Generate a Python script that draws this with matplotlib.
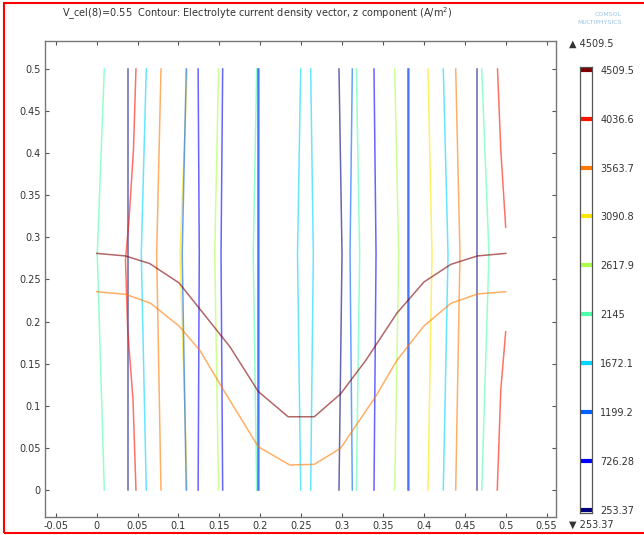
import numpy as np
import matplotlib.pyplot as plt
from matplotlib.patches import Rectangle

# contour levels (A/m^2)
levels = [253.37, 726.28, 1199.2, 1672.1, 2145, 2617.9, 3090.8, 3563.7, 4036.6, 4509.5]
level_labels = ['253.37', '726.28', '1199.2', '1672.1', '2145', '2617.9',
                '3090.8', '3563.7', '4036.6', '4509.5']

# near-vertical contour lines: level index, x at y=0.5, x near y=0.28, x at y=0
v_level = [4, 0, 3, 7, 6, 2, 1, 5, 1, 4, 1, 2,
           3, 3, 0, 2, 4, 1, 5, 1, 2, 6, 3, 7, 0, 4]
v_top = [0.0093, 0.0379, 0.0606, 0.0786, 0.1108, 0.1095, 0.124, 0.149, 0.154, 0.1956, 0.1972, 0.1985,
         0.2494, 0.2616, 0.2962, 0.3125, 0.3174, 0.339, 0.3643, 0.3809, 0.3815, 0.405, 0.4237, 0.4389,
         0.4653, 0.4707]
v_mid = [0.0007, 0.0379, 0.0545, 0.0733, 0.1018, 0.1045, 0.1254, 0.1443, 0.152, 0.1914, 0.1972, 0.1985,
         0.2455, 0.2648, 0.2999, 0.3097, 0.3215, 0.3415, 0.3692, 0.3809, 0.3815, 0.4099, 0.4295, 0.4441,
         0.4653, 0.4796]
v_bot = v_top
v_y = [0.5, 0.28, 0.0]

# bent 4036.6 contours near the side walls
red_left_x = [0.048, 0.045, 0.0395, 0.0352, 0.0379, 0.0444, 0.048]
red_left_y = [0.5, 0.405, 0.321, 0.273, 0.19, 0.107, 0.0]
red_right_top_x = [0.490, 0.494, 0.5]
red_right_top_y = [0.5, 0.404, 0.312]
red_right_bot_x = [0.5, 0.494, 0.4897]
red_right_bot_y = [0.188, 0.119, 0.0]

# curved contours across the domain
upper_x = [0, 0.035, 0.0647, 0.1006, 0.163, 0.1975, 0.234, 0.266, 0.298, 0.329, 0.367,
           0.40, 0.433, 0.4655, 0.5]
upper_y = [0.281, 0.278, 0.269, 0.246, 0.170, 0.117, 0.087, 0.087, 0.114, 0.154, 0.21,
           0.247, 0.268, 0.278, 0.281]
lower_x = [0, 0.0355, 0.066, 0.1006, 0.126, 0.155, 0.1975, 0.236, 0.266, 0.298, 0.341,
           0.367, 0.40, 0.433, 0.4655, 0.5]
lower_y = [0.2355, 0.2324, 0.2217, 0.1948, 0.166, 0.1188, 0.0514, 0.0297, 0.0305, 0.0495,
           0.111, 0.154, 0.1948, 0.2217, 0.2328, 0.2355]

x_ticks = [-0.05, 0, 0.05, 0.1, 0.15, 0.2, 0.25, 0.3, 0.35, 0.4, 0.45, 0.5, 0.55]
x_tick_labels = ['-0.05', '0', '0.05', '0.1', '0.15', '0.2', '0.25', '0.3', '0.35',
                 '0.4', '0.45', '0.5', '0.55']
y_ticks = [0, 0.05, 0.1, 0.15, 0.2, 0.25, 0.3, 0.35, 0.4, 0.45, 0.5]
y_tick_labels = ['0', '0.05', '0.1', '0.15', '0.2', '0.25', '0.3', '0.35', '0.4', '0.45', '0.5']

cmap = plt.cm.jet
norm = plt.Normalize(levels[0], levels[-1])
txt = '#333333'
W, H = 644, 535

fig = plt.figure(figsize=(6.44, 5.35), dpi=100)
ax = fig.add_axes([45 / W, (H - 516.7) / H, 511 / W, 476 / H])

for lv, xt, xm, xb in zip(v_level, v_top, v_mid, v_bot):
    ax.plot([xt, xm, xb], v_y, color=cmap(norm(levels[lv])), lw=1.1, alpha=0.6)

red = cmap(norm(levels[8]))
ax.plot(red_left_x, red_left_y, color=red, lw=1.1, alpha=0.6)
ax.plot(red_right_top_x, red_right_top_y, color=red, lw=1.1, alpha=0.6)
ax.plot(red_right_bot_x, red_right_bot_y, color=red, lw=1.1, alpha=0.6)
ax.plot(upper_x, upper_y, color=cmap(norm(levels[9])), lw=1.1, alpha=0.6)
ax.plot(lower_x, lower_y, color=cmap(norm(levels[7])), lw=1.1, alpha=0.6)

ax.set_xlim(-0.0632, 0.5615)
ax.set_ylim(-0.0317, 0.5336)
ax.set_xticks(x_ticks)
ax.set_xticklabels(x_tick_labels)
ax.set_yticks(y_ticks)
ax.set_yticklabels(y_tick_labels)
ax.tick_params(direction='in', top=True, right=True, length=3, width=0.8,
               color='#555555', labelsize=7, labelcolor=txt, pad=3)
for s in ax.spines.values():
    s.set_color('#777777')
    s.set_linewidth(1.0)

# legend bar with level marks
cax = fig.add_axes([580 / W, (H - 513.3) / H, 12 / W, 446 / H])
cax.set_xlim(0, 1)
cax.set_ylim(216.6, 4535.6)
for lv in levels:
    cax.axhline(lv, color=cmap(norm(lv)), lw=3)
cax.set_xticks([])
cax.yaxis.tick_right()
cax.set_yticks(levels)
cax.set_yticklabels(level_labels)
cax.tick_params(axis='y', length=0, labelsize=7, labelcolor=txt, pad=6)
for s in cax.spines.values():
    s.set_color('#555555')
    s.set_linewidth(0.9)

fig.text(569 / W, 1 - 44 / H, '\u25b2 4509.5', fontsize=7, color=txt, va='center')
fig.text(569 / W, 1 - 525 / H, '\u25bc 253.37', fontsize=7, color=txt, va='center')

fig.text(62 / W, 1 - 14 / H,
         r'V_cel(8)=0.55  Contour: Electrolyte current density vector, z component (A/m$^2$)',
         fontsize=7, color=txt, va='center')
fig.text(622 / W, 1 - 15 / H, 'COMSOL', fontsize=4.5, color='#9cc4e4', ha='right', va='center')
fig.text(622 / W, 1 - 22 / H, 'MULTIPHYSICS', fontsize=4.5, color='#9cc4e4', ha='right', va='center')

fig.patches.append(Rectangle((4 / W, (H - 532.5) / H), 660 / W, 529.5 / H,
                             transform=fig.transFigure, fill=False, edgecolor='red', lw=1.5))

fig.savefig('out.png', dpi=100)
